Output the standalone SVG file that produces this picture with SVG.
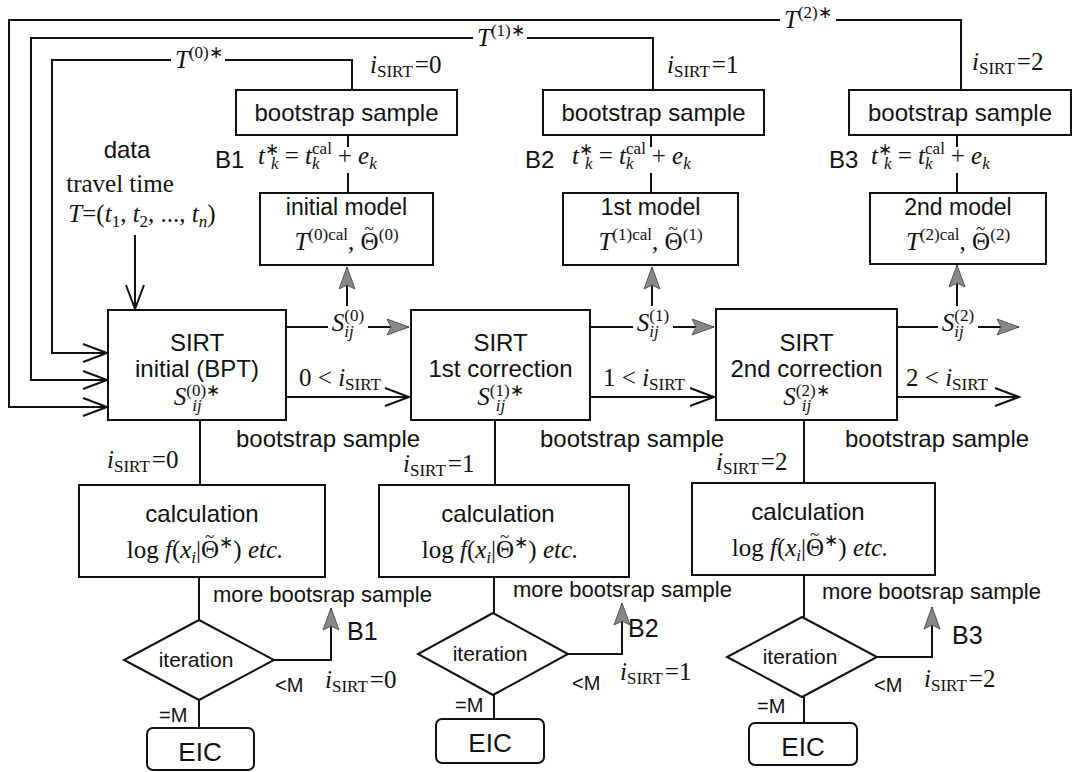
<svg xmlns="http://www.w3.org/2000/svg" width="1074" height="772" viewBox="0 0 1074 772">
<style>
.box{fill:#fff;stroke:#111;stroke-width:2}
.ln{fill:none;stroke:#111;stroke-width:2}
.sans{font-family:"Liberation Sans",Arial,sans-serif;fill:#111}
.serif{font-family:"Liberation Serif","Times New Roman",serif;fill:#111;font-size:25px}
.it{font-style:italic}
.sm{font-size:17px}
.mask{fill:#fff;stroke:none}
</style>
<defs>
<marker id="open" markerUnits="userSpaceOnUse" markerWidth="28" markerHeight="22" refX="25" refY="11" orient="auto">
<path d="M1,2 L25,11 L1,20" fill="none" stroke="#111" stroke-width="2"/>
</marker>
<marker id="gray" markerUnits="userSpaceOnUse" markerWidth="26" markerHeight="20" refX="23" refY="10" orient="auto">
<path d="M1,2 L23,10 L1,18 L5,10 z" fill="#888" stroke="#555" stroke-width="1"/>
</marker>
</defs>
<rect width="1074" height="772" fill="#fff"/>

<g id="connectors">
<path class="ln" d="M961,90 V20 H9 V407 H107" marker-end="url(#open)"/>
<path class="ln" d="M653,90 V38 H31 V380 H107" marker-end="url(#open)"/>
<path class="ln" d="M352,90 V60 H52 V353 H107" marker-end="url(#open)"/>
<rect class="mask" x="780" y="6" width="56" height="24"/>
<rect class="mask" x="473" y="24" width="54" height="24"/>
<rect class="mask" x="171" y="46" width="54" height="24"/>
<path class="ln" d="M135,235 V309" marker-end="url(#open)"/>
<path class="ln" d="M348,135 V147 M348,173 V193"/>
<path class="ln" d="M651,135 V147 M651,173 V193"/>
<path class="ln" d="M957,135 V147 M957,173 V193"/>
<path class="ln" d="M286,327 H409" marker-end="url(#gray)"/>
<path class="ln" d="M590,327 H714" marker-end="url(#gray)"/>
<path class="ln" d="M897,327 H1019" marker-end="url(#gray)"/>
<path class="ln" d="M347,314 V267" marker-end="url(#gray)"/>
<path class="ln" d="M652,314 V267" marker-end="url(#gray)"/>
<path class="ln" d="M957,314 V265" marker-end="url(#gray)"/>
<rect class="mask" x="328" y="306" width="40" height="38"/>
<rect class="mask" x="633" y="306" width="40" height="38"/>
<rect class="mask" x="938" y="306" width="40" height="38"/>
<path class="ln" d="M286,397 H409" marker-end="url(#open)"/>
<path class="ln" d="M590,397 H714" marker-end="url(#open)"/>
<path class="ln" d="M897,397 H1019" marker-end="url(#open)"/>
<path class="ln" d="M200,420 V485"/>
<path class="ln" d="M495,420 V485"/>
<path class="ln" d="M804,420 V483"/>
<path class="ln" d="M199,577 V620"/>
<path class="ln" d="M494,577 V613"/>
<path class="ln" d="M804,575 V617"/>
<path class="ln" d="M199,700 V728"/>
<path class="ln" d="M494,695 V719"/>
<path class="ln" d="M804,697 V723"/>
<path class="ln" d="M274,660 H331 V608" marker-end="url(#gray)"/>
<path class="ln" d="M568,654 H622 V603" marker-end="url(#gray)"/>
<path class="ln" d="M877,657 H932 V607" marker-end="url(#gray)"/>
</g>

<g id="labels-top">
<text class="serif" x="784" y="28"><tspan class="it">T</tspan><tspan class="sm" dy="-10">(2)∗</tspan></text>
<text class="serif" x="477" y="46"><tspan class="it">T</tspan><tspan class="sm" dy="-10">(1)∗</tspan></text>
<text class="serif" x="175" y="68"><tspan class="it">T</tspan><tspan class="sm" dy="-10">(0)∗</tspan></text>
<text class="serif" x="370" y="73"><tspan class="it">i</tspan><tspan class="sm" dy="4">SIRT</tspan><tspan dy="-4" dx="2">=0</tspan></text>
<text class="serif" x="667" y="73"><tspan class="it">i</tspan><tspan class="sm" dy="4">SIRT</tspan><tspan dy="-4" dx="2">=1</tspan></text>
<text class="serif" x="972" y="70"><tspan class="it">i</tspan><tspan class="sm" dy="4">SIRT</tspan><tspan dy="-4" dx="2">=2</tspan></text>
</g>

<g id="data">
<text class="sans" x="127" y="158" font-size="24" text-anchor="middle">data</text>
<text class="serif" x="120" y="192" text-anchor="middle">travel time</text>
<text class="serif" x="142" y="222" text-anchor="middle"><tspan class="it">T</tspan><tspan>=(</tspan><tspan class="it">t</tspan><tspan class="sm" dy="5">1</tspan><tspan dy="-5">, </tspan><tspan class="it">t</tspan><tspan class="sm" dy="5">2</tspan><tspan dy="-5">, ..., </tspan><tspan class="it">t</tspan><tspan class="sm it" dy="5">n</tspan><tspan dy="-5">)</tspan></text>
</g>

<g id="bootstrap1">
<rect class="box" x="236" y="90" width="221" height="45"/>
<text class="sans" x="346.5" y="121" font-size="24" text-anchor="middle">bootstrap sample</text>
</g>
<g id="bootstrap2">
<rect class="box" x="543" y="90" width="221" height="45"/>
<text class="sans" x="653.5" y="121" font-size="24" text-anchor="middle">bootstrap sample</text>
</g>
<g id="bootstrap3">
<rect class="box" x="849" y="90" width="222" height="45"/>
<text class="sans" x="960" y="121" font-size="24" text-anchor="middle">bootstrap sample</text>
</g>

<g id="formulas">
<text class="sans" x="215" y="168" font-size="24">B1</text>
<text class="sans" x="525" y="168" font-size="24">B2</text>
<text class="sans" x="829" y="168" font-size="24">B3</text>
<text class="serif" x="258" y="164"><tspan class="it">t</tspan><tspan class="sm" dy="-9">∗</tspan><tspan class="sm it" dx="-8" dy="14">k</tspan><tspan dy="-5"> = </tspan><tspan class="it">t</tspan><tspan class="sm" dy="-10">cal</tspan><tspan class="sm it" dx="-20" dy="15">k</tspan><tspan dy="-5" dx="12"> + </tspan><tspan class="it">e</tspan><tspan class="sm it" dy="5">k</tspan></text>
<text class="serif" x="572" y="164"><tspan class="it">t</tspan><tspan class="sm" dy="-9">∗</tspan><tspan class="sm it" dx="-8" dy="14">k</tspan><tspan dy="-5"> = </tspan><tspan class="it">t</tspan><tspan class="sm" dy="-10">cal</tspan><tspan class="sm it" dx="-20" dy="15">k</tspan><tspan dy="-5" dx="12"> + </tspan><tspan class="it">e</tspan><tspan class="sm it" dy="5">k</tspan></text>
<text class="serif" x="871" y="164"><tspan class="it">t</tspan><tspan class="sm" dy="-9">∗</tspan><tspan class="sm it" dx="-8" dy="14">k</tspan><tspan dy="-5"> = </tspan><tspan class="it">t</tspan><tspan class="sm" dy="-10">cal</tspan><tspan class="sm it" dx="-20" dy="15">k</tspan><tspan dy="-5" dx="12"> + </tspan><tspan class="it">e</tspan><tspan class="sm it" dy="5">k</tspan></text>
</g>

<g id="model1">
<rect class="box" x="260" y="193" width="173" height="72"/>
<text class="sans" x="346.5" y="215" font-size="23" text-anchor="middle">initial model</text>
<text class="serif" x="346.5" y="250" text-anchor="middle"><tspan class="it">T</tspan><tspan class="sm" dy="-10">(0)cal</tspan><tspan dy="10">, Θ</tspan><tspan class="sm" dx="-14" dy="-16">~</tspan><tspan class="sm" dx="5" dy="6">(0)</tspan></text>
</g>
<g id="model2">
<rect class="box" x="563" y="193" width="175" height="72"/>
<text class="sans" x="650.5" y="215" font-size="23" text-anchor="middle">1st model</text>
<text class="serif" x="650.5" y="250" text-anchor="middle"><tspan class="it">T</tspan><tspan class="sm" dy="-10">(1)cal</tspan><tspan dy="10">, Θ</tspan><tspan class="sm" dx="-14" dy="-16">~</tspan><tspan class="sm" dx="5" dy="6">(1)</tspan></text>
</g>
<g id="model3">
<rect class="box" x="870" y="193" width="176" height="71"/>
<text class="sans" x="958" y="215" font-size="23" text-anchor="middle">2nd model</text>
<text class="serif" x="958" y="250" text-anchor="middle"><tspan class="it">T</tspan><tspan class="sm" dy="-10">(2)cal</tspan><tspan dy="10">, Θ</tspan><tspan class="sm" dx="-14" dy="-16">~</tspan><tspan class="sm" dx="5" dy="6">(2)</tspan></text>
</g>

<g id="s-labels">
<text class="serif" x="348" y="331" text-anchor="middle"><tspan class="it">S</tspan><tspan class="sm" dy="-10">(0)</tspan><tspan class="sm it" dx="-20" dy="16">ij</tspan></text>
<text class="serif" x="653" y="331" text-anchor="middle"><tspan class="it">S</tspan><tspan class="sm" dy="-10">(1)</tspan><tspan class="sm it" dx="-20" dy="16">ij</tspan></text>
<text class="serif" x="958" y="331" text-anchor="middle"><tspan class="it">S</tspan><tspan class="sm" dy="-10">(2)</tspan><tspan class="sm it" dx="-20" dy="16">ij</tspan></text>
<text class="serif" x="340" y="386" text-anchor="middle">0 &lt; <tspan class="it">i</tspan><tspan class="sm" dy="4">SIRT</tspan></text>
<text class="serif" x="644" y="386" text-anchor="middle">1 &lt; <tspan class="it">i</tspan><tspan class="sm" dy="4">SIRT</tspan></text>
<text class="serif" x="947" y="386" text-anchor="middle">2 &lt; <tspan class="it">i</tspan><tspan class="sm" dy="4">SIRT</tspan></text>
</g>

<g id="sirt1">
<rect class="box" x="108" y="310" width="178" height="110"/>
<text class="sans" x="197" y="351" font-size="24" text-anchor="middle">SIRT</text>
<text class="sans" x="197" y="377" font-size="24" text-anchor="middle">initial (BPT)</text>
<text class="serif" x="197" y="405" text-anchor="middle"><tspan class="it">S</tspan><tspan class="sm" dy="-9">(0)∗</tspan><tspan class="sm it" dx="-28" dy="15">ij</tspan></text>
</g>
<g id="sirt2">
<rect class="box" x="411" y="310" width="179" height="110"/>
<text class="sans" x="500.5" y="351" font-size="24" text-anchor="middle">SIRT</text>
<text class="sans" x="500.5" y="377" font-size="24" text-anchor="middle">1st correction</text>
<text class="serif" x="500.5" y="405" text-anchor="middle"><tspan class="it">S</tspan><tspan class="sm" dy="-9">(1)∗</tspan><tspan class="sm it" dx="-28" dy="15">ij</tspan></text>
</g>
<g id="sirt3">
<rect class="box" x="716" y="309" width="181" height="111"/>
<text class="sans" x="806.5" y="351" font-size="24" text-anchor="middle">SIRT</text>
<text class="sans" x="806.5" y="377" font-size="24" text-anchor="middle">2nd correction</text>
<text class="serif" x="806.5" y="405" text-anchor="middle"><tspan class="it">S</tspan><tspan class="sm" dy="-9">(2)∗</tspan><tspan class="sm it" dx="-28" dy="15">ij</tspan></text>
</g>

<g id="mid-labels">
<text class="sans" x="236" y="447" font-size="24">bootstrap sample</text>
<text class="sans" x="540" y="447" font-size="24">bootstrap sample</text>
<text class="sans" x="845" y="447" font-size="24">bootstrap sample</text>
<text class="serif" x="107" y="468"><tspan class="it">i</tspan><tspan class="sm" dy="4">SIRT</tspan><tspan dy="-4" dx="2">=0</tspan></text>
<text class="serif" x="403" y="472"><tspan class="it">i</tspan><tspan class="sm" dy="4">SIRT</tspan><tspan dy="-4" dx="2">=1</tspan></text>
<text class="serif" x="716" y="470"><tspan class="it">i</tspan><tspan class="sm" dy="4">SIRT</tspan><tspan dy="-4" dx="2">=2</tspan></text>
</g>

<g id="calc1">
<rect class="box" x="79" y="485" width="246" height="92"/>
<text class="sans" x="202" y="522" font-size="24" text-anchor="middle">calculation</text>
<text class="serif" x="205" y="558" text-anchor="middle">log <tspan class="it">f</tspan>(<tspan class="it">x</tspan><tspan class="sm it" dy="5">i</tspan><tspan dy="-5">|Θ</tspan><tspan class="sm" dx="-14" dy="-16">~</tspan><tspan class="sm" dx="5" dy="6">∗</tspan><tspan dy="10">)  </tspan><tspan class="it">etc.</tspan></text>
</g>
<g id="calc2">
<rect class="box" x="379" y="485" width="250" height="92"/>
<text class="sans" x="498" y="522" font-size="24" text-anchor="middle">calculation</text>
<text class="serif" x="500" y="558" text-anchor="middle">log <tspan class="it">f</tspan>(<tspan class="it">x</tspan><tspan class="sm it" dy="5">i</tspan><tspan dy="-5">|Θ</tspan><tspan class="sm" dx="-14" dy="-16">~</tspan><tspan class="sm" dx="5" dy="6">∗</tspan><tspan dy="10">)  </tspan><tspan class="it">etc.</tspan></text>
</g>
<g id="calc3">
<rect class="box" x="692" y="483" width="243" height="92"/>
<text class="sans" x="808" y="520" font-size="24" text-anchor="middle">calculation</text>
<text class="serif" x="810" y="556" text-anchor="middle">log <tspan class="it">f</tspan>(<tspan class="it">x</tspan><tspan class="sm it" dy="5">i</tspan><tspan dy="-5">|Θ</tspan><tspan class="sm" dx="-14" dy="-16">~</tspan><tspan class="sm" dx="5" dy="6">∗</tspan><tspan dy="10">)  </tspan><tspan class="it">etc.</tspan></text>
</g>

<g id="more-labels">
<text class="sans" x="213" y="602" font-size="22">more bootsrap sample</text>
<text class="sans" x="513" y="597" font-size="22">more bootsrap sample</text>
<text class="sans" x="822" y="599" font-size="22">more bootsrap sample</text>
<text class="sans" x="347" y="640" font-size="25">B1</text>
<text class="sans" x="628" y="637" font-size="25">B2</text>
<text class="sans" x="952" y="644" font-size="25">B3</text>
<text class="sans" x="275" y="692" font-size="20">&lt;M</text>
<text class="sans" x="572" y="690" font-size="20">&lt;M</text>
<text class="sans" x="874" y="692" font-size="20">&lt;M</text>
<text class="serif" x="325" y="688"><tspan class="it">i</tspan><tspan class="sm" dy="4">SIRT</tspan><tspan dy="-4" dx="2">=0</tspan></text>
<text class="serif" x="620" y="680"><tspan class="it">i</tspan><tspan class="sm" dy="4">SIRT</tspan><tspan dy="-4" dx="2">=1</tspan></text>
<text class="serif" x="924" y="687"><tspan class="it">i</tspan><tspan class="sm" dy="4">SIRT</tspan><tspan dy="-4" dx="2">=2</tspan></text>
<text class="sans" x="159" y="722" font-size="20">=M</text>
<text class="sans" x="455" y="712" font-size="20">=M</text>
<text class="sans" x="757" y="713" font-size="20">=M</text>
</g>

<g id="iter1">
<polygon class="box" points="199,620 274,660 199,700 124,660"/>
<text class="sans" x="196" y="667" font-size="21" text-anchor="middle">iteration</text>
</g>
<g id="iter2">
<polygon class="box" points="493,613 568,654 493,695 418,654"/>
<text class="sans" x="490" y="661" font-size="21" text-anchor="middle">iteration</text>
</g>
<g id="iter3">
<polygon class="box" points="802,617 877,657 802,697 727,657"/>
<text class="sans" x="800" y="664" font-size="21" text-anchor="middle">iteration</text>
</g>

<g id="eic1">
<rect class="box" x="147" y="728" width="107" height="42" rx="6"/>
<text class="sans" x="200" y="761" font-size="26" text-anchor="middle">EIC</text>
</g>
<g id="eic2">
<rect class="box" x="436" y="719" width="108" height="44" rx="6"/>
<text class="sans" x="490" y="752" font-size="26" text-anchor="middle">EIC</text>
</g>
<g id="eic3">
<rect class="box" x="749" y="723" width="108" height="42" rx="6"/>
<text class="sans" x="803" y="756" font-size="26" text-anchor="middle">EIC</text>
</g>
</svg>
